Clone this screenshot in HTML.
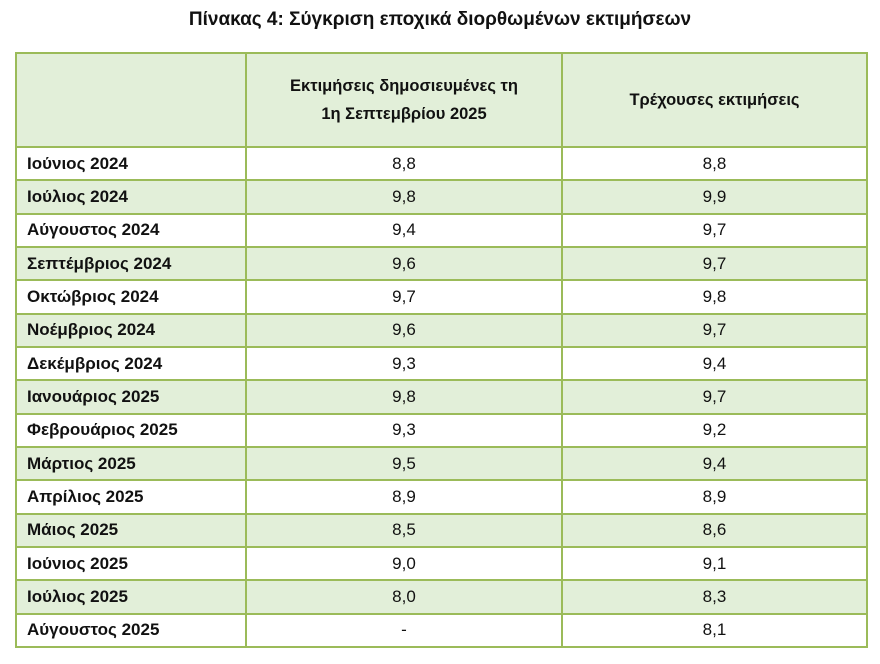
<!DOCTYPE html>
<html><head><meta charset="utf-8"><style>
body{margin:0;width:880px;height:664px;background:#fff;font-family:"Liberation Sans","DejaVu Sans",sans-serif;color:#111;}
.t{position:absolute;left:0;width:880px;top:9px;text-align:center;font-weight:bold;font-size:19px;}
table{position:absolute;left:15px;top:52px;border-collapse:collapse;width:853px;}
tr{height:33.35px;}
td{border:2.5px solid #9bbb59;padding:0;font-size:17px;text-align:center;}
td:first-child{text-align:left;padding-left:10px;font-weight:bold;width:218px;}
td:nth-child(2){width:314px;}
tr.g td{background:#e2efd9;}
tr.h{height:94px;}
tr.h td{font-weight:bold;font-size:16.5px;line-height:28px;}
</style></head><body>
<div class="t">Πίνακας 4: Σύγκριση εποχικά διορθωμένων εκτιμήσεων</div>
<table>
<tr class="h g"><td></td><td>Εκτιμήσεις δημοσιευμένες τη<br>1η Σεπτεμβρίου 2025</td><td>Τρέχουσες εκτιμήσεις</td></tr>
<tr><td>Ιούνιος 2024</td><td>8,8</td><td>8,8</td></tr>
<tr class="g"><td>Ιούλιος 2024</td><td>9,8</td><td>9,9</td></tr>
<tr><td>Αύγουστος 2024</td><td>9,4</td><td>9,7</td></tr>
<tr class="g"><td>Σεπτέμβριος 2024</td><td>9,6</td><td>9,7</td></tr>
<tr><td>Οκτώβριος 2024</td><td>9,7</td><td>9,8</td></tr>
<tr class="g"><td>Νοέμβριος 2024</td><td>9,6</td><td>9,7</td></tr>
<tr><td>Δεκέμβριος 2024</td><td>9,3</td><td>9,4</td></tr>
<tr class="g"><td>Ιανουάριος 2025</td><td>9,8</td><td>9,7</td></tr>
<tr><td>Φεβρουάριος 2025</td><td>9,3</td><td>9,2</td></tr>
<tr class="g"><td>Μάρτιος 2025</td><td>9,5</td><td>9,4</td></tr>
<tr><td>Απρίλιος 2025</td><td>8,9</td><td>8,9</td></tr>
<tr class="g"><td>Μάιος 2025</td><td>8,5</td><td>8,6</td></tr>
<tr><td>Ιούνιος 2025</td><td>9,0</td><td>9,1</td></tr>
<tr class="g"><td>Ιούλιος 2025</td><td>8,0</td><td>8,3</td></tr>
<tr><td>Αύγουστος 2025</td><td>-</td><td>8,1</td></tr>
</table>
</body></html>
